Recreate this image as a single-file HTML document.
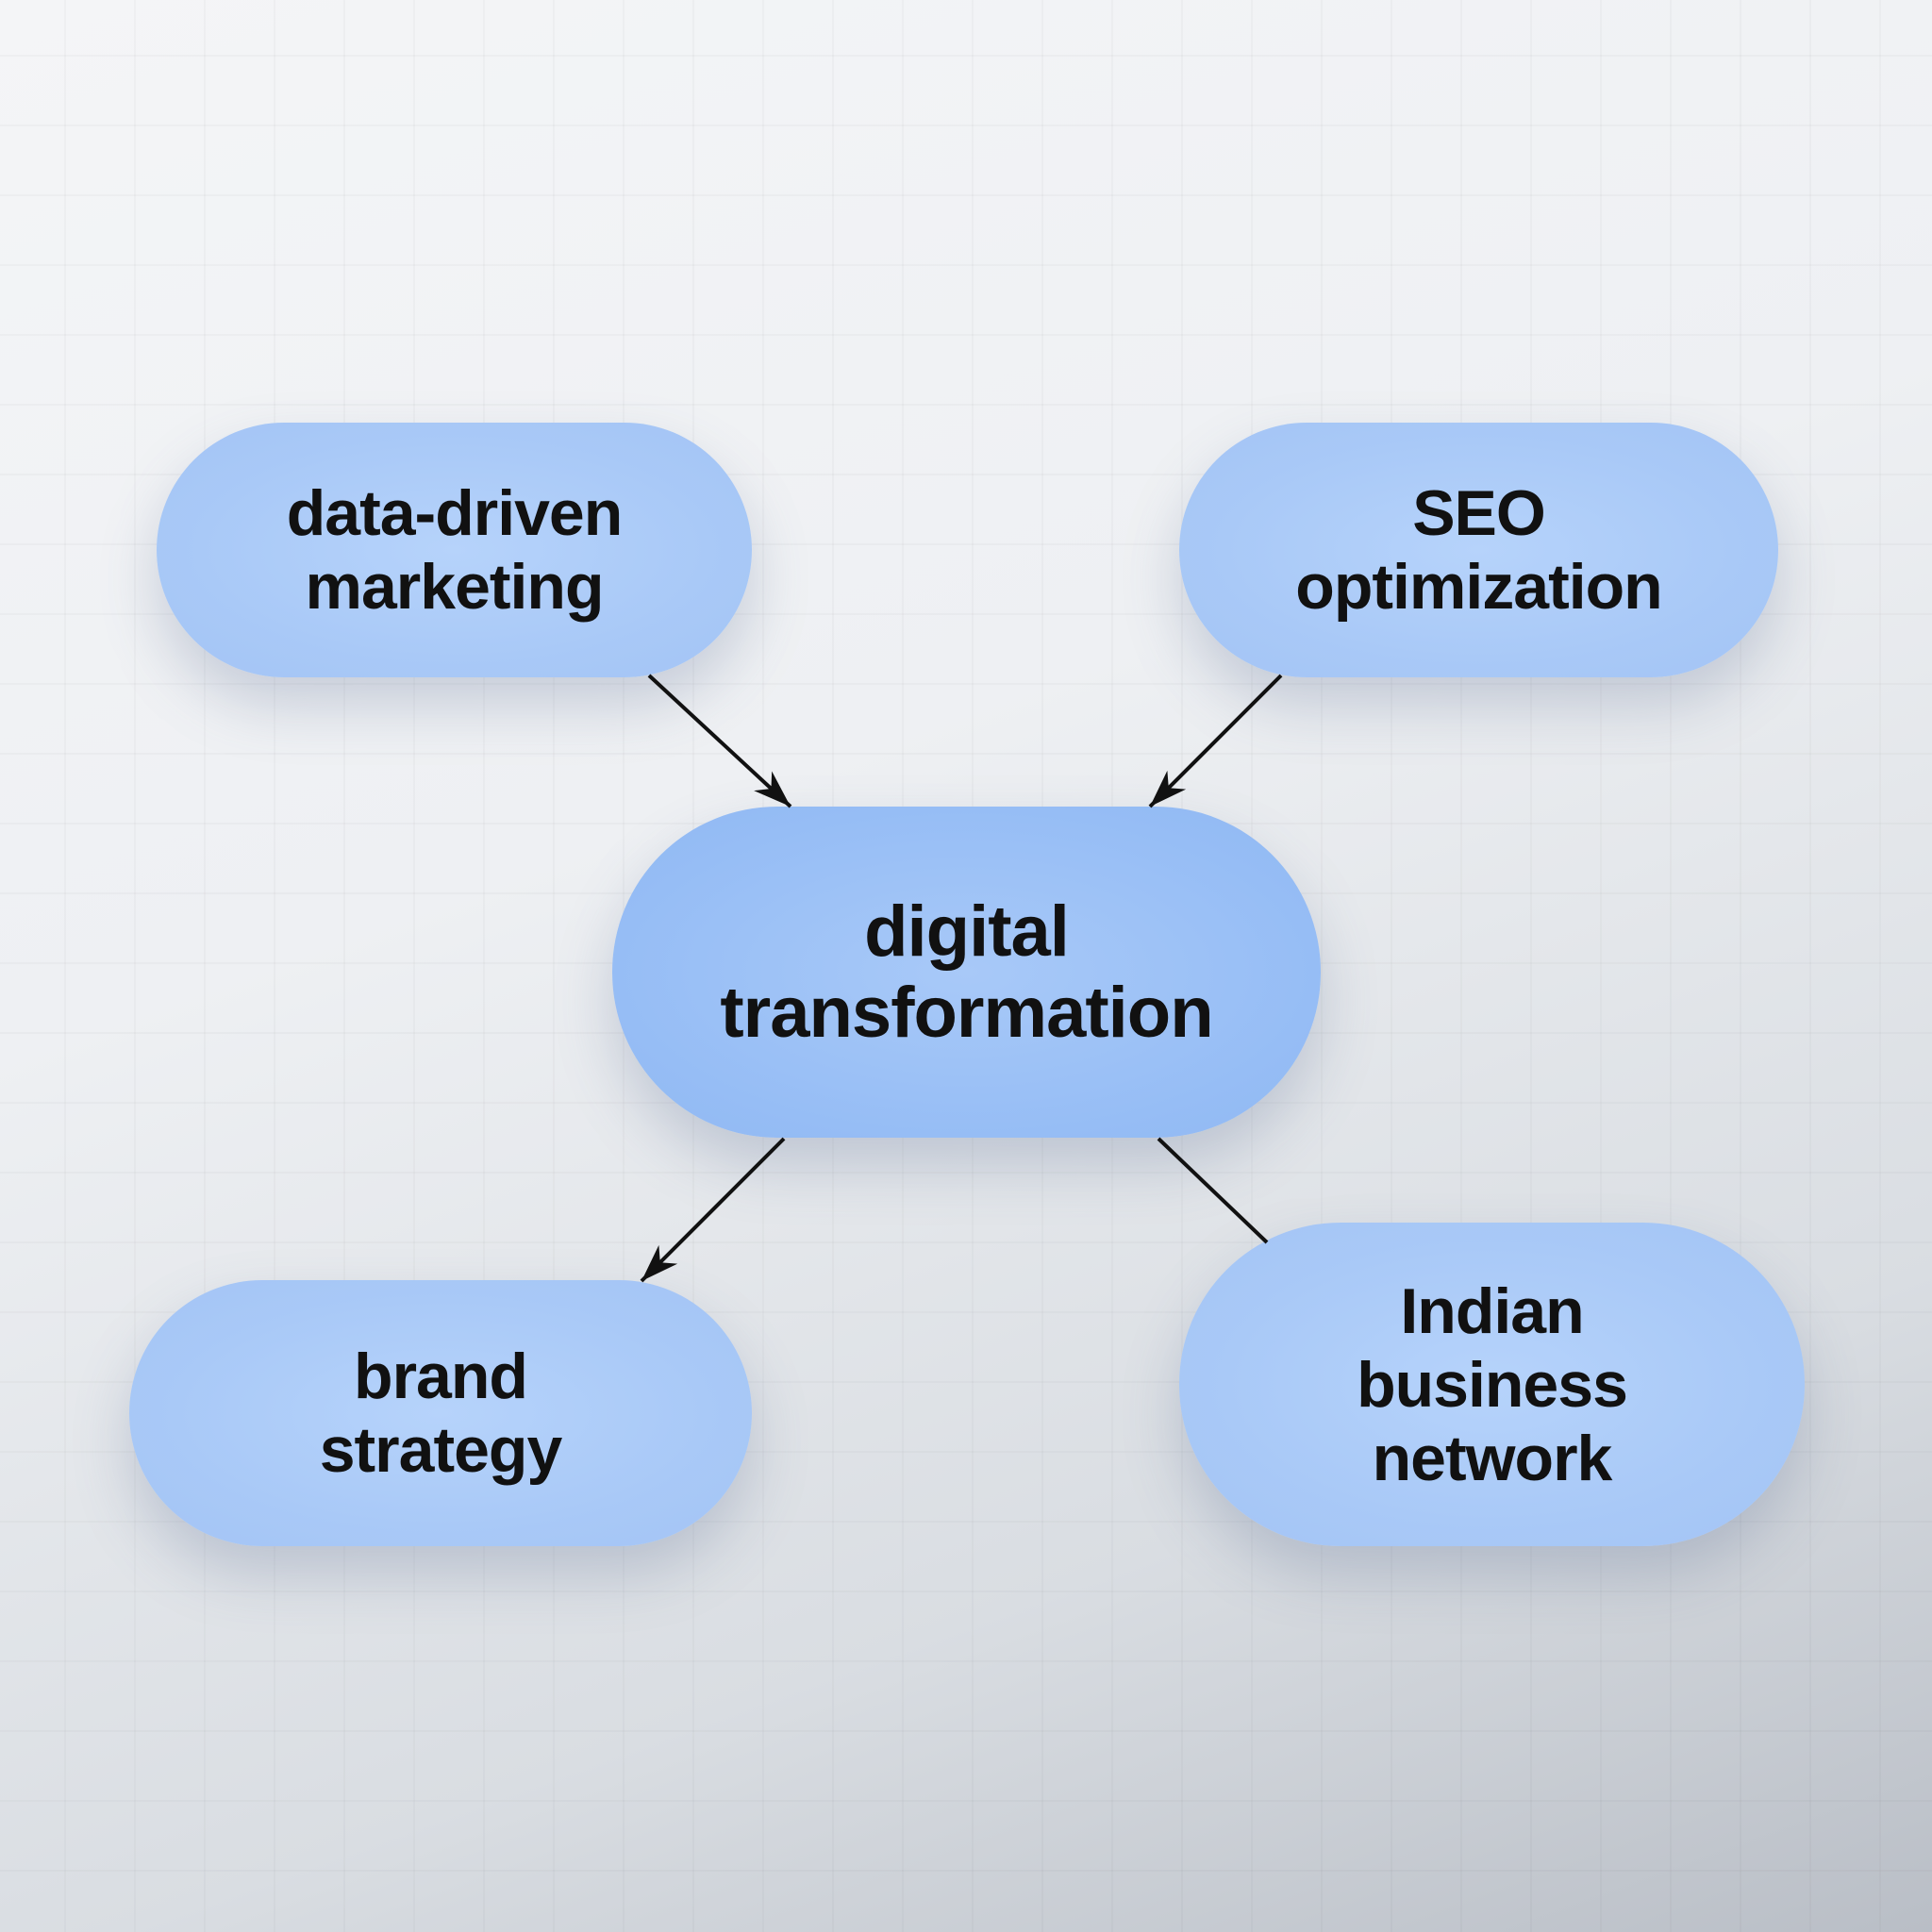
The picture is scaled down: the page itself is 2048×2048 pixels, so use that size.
<!DOCTYPE html>
<html><head><meta charset="utf-8"><style>
html,body{margin:0;padding:0}
body{width:2048px;height:2048px;position:relative;overflow:hidden;
background:linear-gradient(160deg,#f4f5f7 0%,#eef0f3 40%,#d9dde2 75%,#b9bec6 100%);
font-family:"Liberation Sans",sans-serif}
.grid{position:absolute;inset:0;
background-image:linear-gradient(rgba(0,0,0,0.025) 2px,transparent 2px),linear-gradient(90deg,rgba(0,0,0,0.025) 2px,transparent 2px);
background-size:74px 74px;background-position:-6px -16px}
.n{position:absolute;display:flex;align-items:center;justify-content:center;text-align:center;
background:radial-gradient(ellipse at center,#b6d3fb 0%,#a9c9f7 60%,#a3c4f5 100%);
box-shadow:0 30px 60px rgba(80,100,140,0.25);font-weight:bold;color:#111;font-size:68px;line-height:78px;letter-spacing:-1px}
.c{background:radial-gradient(ellipse at center,#a8c9f8 0%,#96bdf5 70%,#90b8f3 100%);font-size:76px;line-height:86px}
svg{position:absolute;left:0;top:0}
</style></head><body>
<div class="grid"></div>
<div class="n" style="left:166px;top:448px;width:631px;height:270px;border-radius:135px">data-driven<br>marketing</div>
<div class="n" style="left:1250px;top:448px;width:635px;height:270px;border-radius:135px">SEO<br>optimization</div>
<div class="n c" style="left:649px;top:855px;width:751px;height:351px;border-radius:175px">digital<br>transformation</div>
<div class="n" style="left:137px;top:1357px;width:660px;height:282px;border-radius:141px">brand<br>strategy</div>
<div class="n" style="left:1250px;top:1296px;width:663px;height:343px;border-radius:171px">Indian<br>business<br>network</div>
<svg width="2048" height="2048">
<defs><marker id="a" markerWidth="42" markerHeight="32" refX="40" refY="16" orient="auto" markerUnits="userSpaceOnUse" viewBox="0 0 42 32">
<path d="M0,2 L40,16 L0,30 L12,16 Z" fill="#111"/></marker></defs>
<g stroke="#111" stroke-width="4" fill="none">
<line x1="688" y1="716" x2="838" y2="855" marker-end="url(#a)"/>
<line x1="1358" y1="716" x2="1219" y2="855" marker-end="url(#a)"/>
<line x1="831" y1="1207" x2="680" y2="1358" marker-end="url(#a)"/>
<line x1="1228" y1="1207" x2="1343" y2="1317"/>
</g>
</svg>
</body></html>
